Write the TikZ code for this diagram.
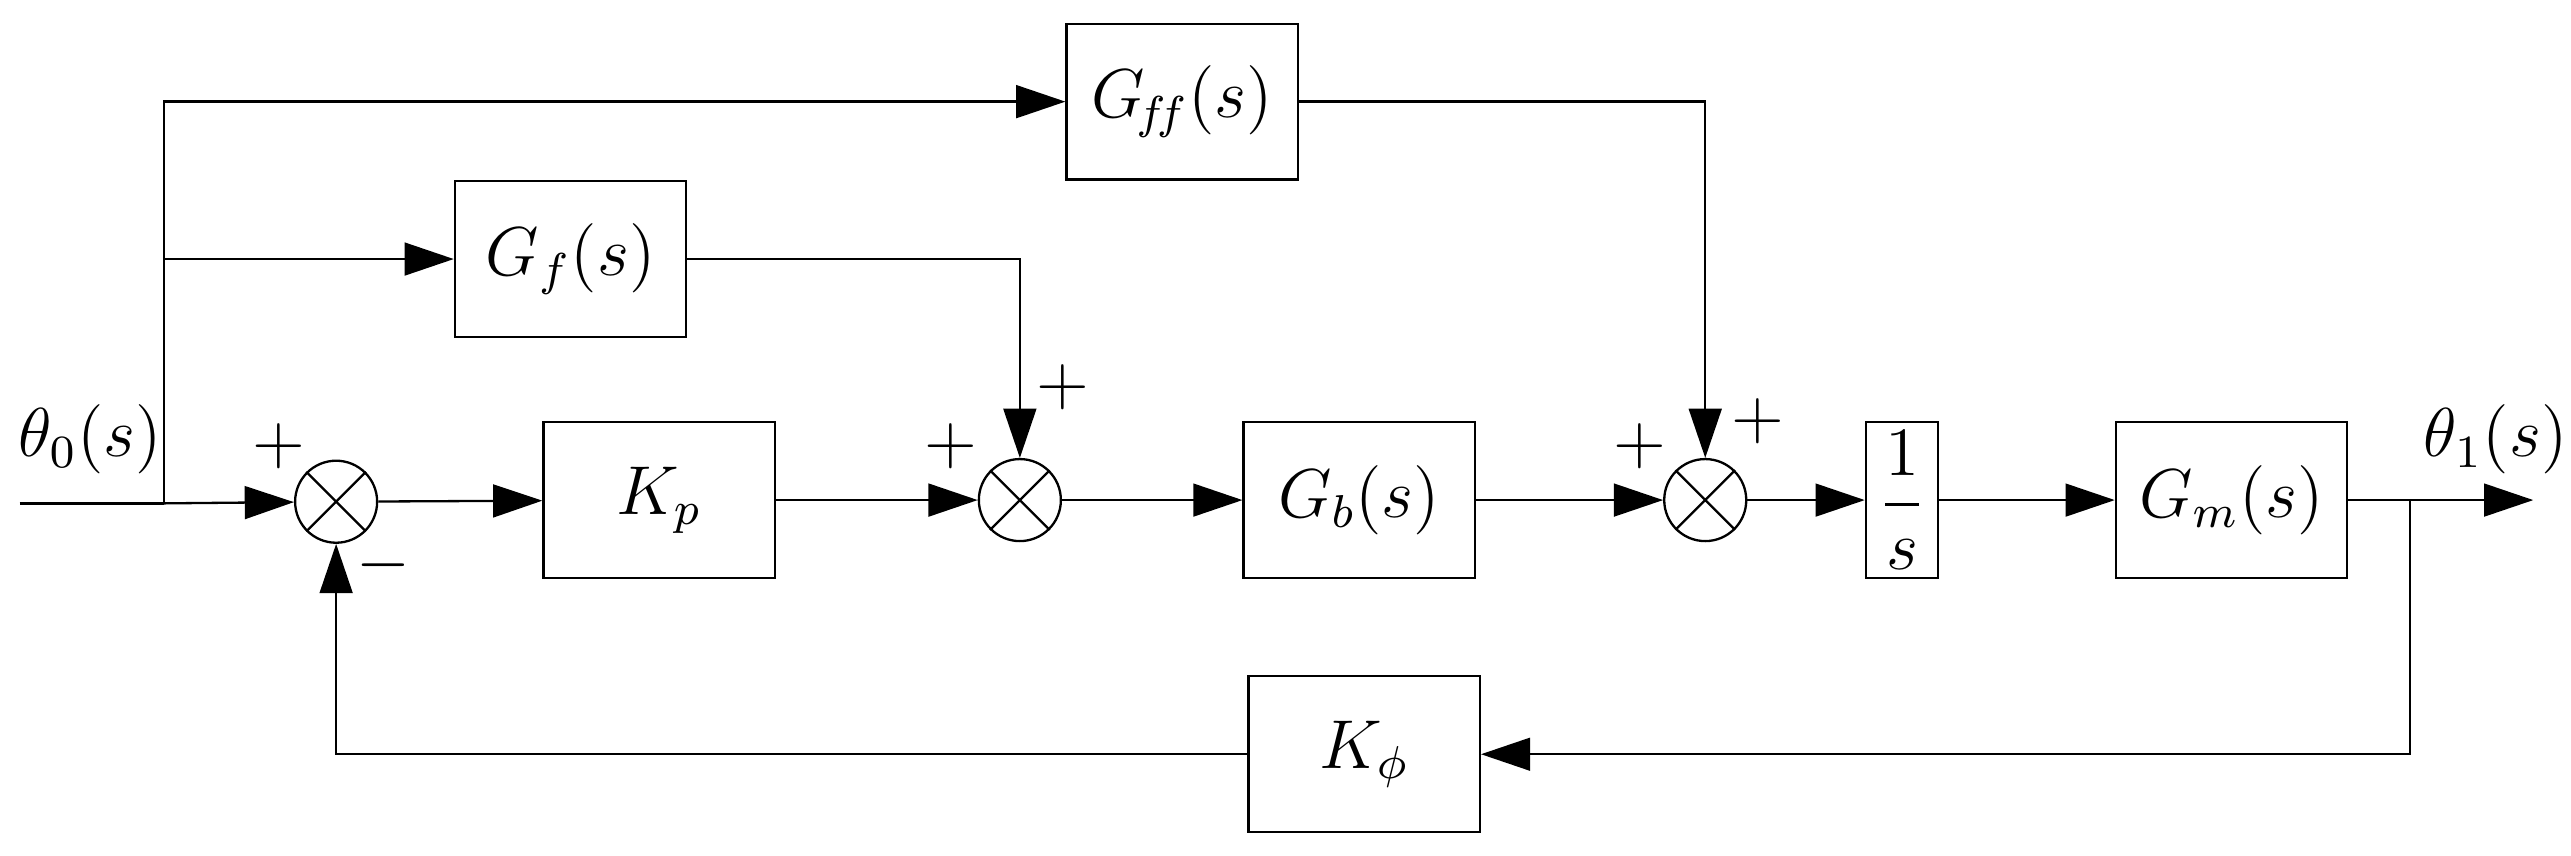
\documentclass[tikz,border=0pt]{standalone}
\usepackage{amsmath}
\usetikzlibrary{positioning,arrows.meta}
\begin{document}
\begin{tikzpicture}[x=0.01cm,y=-0.01cm,
  blk/.style={draw,minimum width=1.41cm,minimum height=0.95cm,font=\large},
  sumc/.style={draw,circle,minimum size=0.5cm,inner sep=0pt},
  sig/.style={-{Triangle[length=0.3cm,width=0.2cm]}},
  lbl/.style={font=\large}]
  \useasboundingbox (0,0) rectangle (1568,522);
  \node[sumc] (s1) at (205,306) {};
  \node[sumc] (s2) at (622,305) {};
  \node[sumc] (s3) at (1040,305) {};
  \foreach \s in {s1,s2,s3}
    \draw (\s.north east) -- (\s.south west) (\s.north west) -- (\s.south east);
  \node[blk] (kp) at (402,305) {$K_p$};
  \node[blk] (gb) at (829,305) {$G_b(s)$};
  \node[blk,minimum width=0.44cm,inner sep=1pt] (int) at (1160,305) {$\dfrac{1}{s}$};
  \node[blk] (gm) at (1361,305) {$G_m(s)$};
  \node[blk] (gf) at (348,158) {$G_f(s)$};
  \node[blk] (gff) at (721,62) {$G_{\!f\!f}(s)$};
  \node[blk] (kphi) at (832,460) {$K_\phi$};
  \coordinate (in) at (12,307);
  \coordinate (br) at (100,307);
  \coordinate (out) at (1545,305);
  \coordinate (fb) at (1470,305);
  % forward path
  \draw (in) -- (br);
  \draw[sig] (br) -- (s1);
  \draw[sig] (s1) -- (kp);
  \draw[sig] (kp) -- (s2);
  \draw[sig] (s2) -- (gb);
  \draw[sig] (gb) -- (s3);
  \draw[sig] (s3) -- (int);
  \draw[sig] (int) -- (gm);
  \draw[sig] (gm) -- (out);
  % feedforward
  \draw[sig] (br) |- (gff);
  \draw[sig] (br) |- (gf);
  \draw[sig] (gf) -| (s2);
  \draw[sig] (gff) -| (s3);
  % feedback
  \draw[sig] (fb) |- (kphi);
  \draw[sig] (kphi) -| (s1);
  \node[lbl] (th0) at (55,268) {$\theta_0(s)$};
  \node[lbl] (th1) at (1522,268) {$\theta_1(s)$};
  \node[lbl] (p1) at (170,272) {$+$};
  \node[lbl] (m1) at (234,345) {$-$};
  \node[lbl] (p2) at (580,272) {$+$};
  \node[lbl] (p3) at (648,236) {$+$};
  \node[lbl] (p4) at (1000,272) {$+$};
  \node[lbl] (p5) at (1072,257) {$+$};
\end{tikzpicture}
\end{document}
